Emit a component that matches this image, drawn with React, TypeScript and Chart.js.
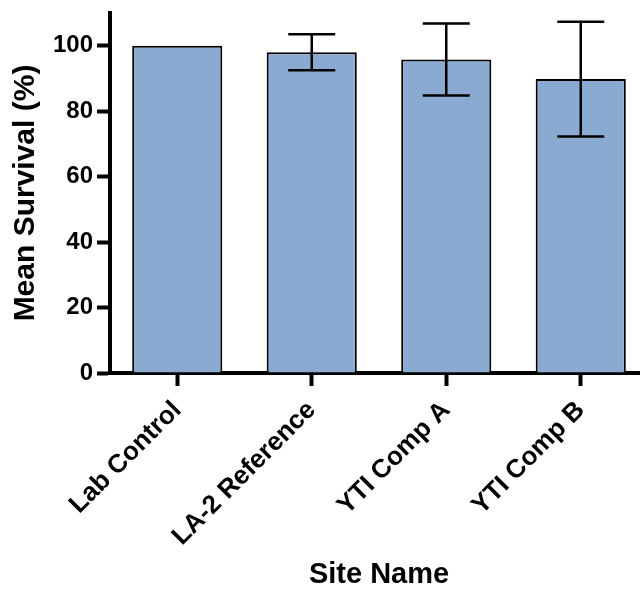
import React, { useEffect, useRef } from "react";
import { Chart, registerables } from "chart.js";

Chart.register(...registerables);

const categories = ["Lab Control", "LA-2 Reference", "YTI Comp A", "YTI Comp B"];
const meanSurvival = [100, 98, 95.8, 89.8];
const errorSD = [0, 5.5, 11, 17.5];
const yTickValues = [0, 20, 40, 60, 80, 100];
const yMax = 110;

const FONT = "'Liberation Sans', Arial, Helvetica, sans-serif";

const errorBarPlugin = {
  id: "errorBars",
  afterDatasetsDraw(chart: any) {
    const xs = chart.scales.x;
    const ys = chart.scales.y;
    const ctx = chart.ctx;
    ctx.save();
    ctx.strokeStyle = "#000";
    ctx.lineWidth = 2.5;
    const capHalf = 23.5;
    meanSurvival.forEach((m, i) => {
      const sd = errorSD[i];
      if (!sd) return;
      const x = xs.getPixelForValue(i);
      const yHi = ys.getPixelForValue(m + sd);
      const yLo = ys.getPixelForValue(m - sd);
      ctx.beginPath();
      ctx.moveTo(x, yHi);
      ctx.lineTo(x, yLo);
      ctx.moveTo(x - capHalf, yHi);
      ctx.lineTo(x + capHalf, yHi);
      ctx.moveTo(x - capHalf, yLo);
      ctx.lineTo(x + capHalf, yLo);
      ctx.stroke();
    });
    ctx.restore();
  },
};

export default function App() {
  const ref = useRef<HTMLCanvasElement>(null);
  useEffect(() => {
    if (!ref.current) return;
    const chart = new Chart(ref.current, {
      type: "bar",
      data: {
        labels: categories,
        datasets: [
          {
            data: meanSurvival,
            backgroundColor: "#8AAAD2",
            borderColor: "#000",
            borderWidth: 2,
            categoryPercentage: 1,
            barPercentage: 0.67,
          },
        ],
      },
      options: {
        animation: false,
        responsive: false,
        layout: { padding: { top: 13, left: 0, right: 0, bottom: 0 } },
        plugins: { legend: { display: false }, tooltip: { enabled: false } },
        scales: {
          x: {
            afterFit(scale: any) {
              scale.height = 219;
              scale.paddingLeft = 0;
              scale.paddingRight = 0;
            },
            grid: {
              offset: false,
              drawOnChartArea: false,
              drawTicks: true,
              tickLength: 13,
              tickWidth: 4,
              tickColor: "#000",
            },
            border: { display: true, width: 4, color: "#000" },
            ticks: {
              minRotation: 45,
              maxRotation: 45,
              padding: 9,
              color: "#000",
              font: { family: FONT, size: 26, weight: "bold" },
            },
            title: {
              display: true,
              text: "Site Name",
              color: "#000",
              padding: { top: 0, bottom: 0 },
              font: { family: FONT, size: 29, weight: "bold" },
            },
          },
          y: {
            min: 0,
            max: yMax,
            afterFit(scale: any) {
              scale.width = 110;
              scale.paddingTop = 0;
              scale.paddingBottom = 0;
            },
            afterBuildTicks(scale: any) {
              scale.ticks = yTickValues.map((v) => ({ value: v }));
            },
            grid: {
              drawOnChartArea: false,
              drawTicks: true,
              tickLength: 13,
              tickWidth: 4,
              tickColor: "#000",
            },
            border: { display: true, width: 4, color: "#000" },
            ticks: {
              padding: 4,
              color: "#000",
              font: { family: FONT, size: 24, weight: "bold" },
            },
            title: {
              display: true,
              text: "Mean Survival (%)",
              color: "#000",
              padding: { top: 8, bottom: 0 },
              font: { family: FONT, size: 30, weight: "bold" },
            },
          },
        },
      },
      plugins: [errorBarPlugin],
    } as any);
    return () => chart.destroy();
  }, []);
  return (
    <div
      style={{
        position: "fixed",
        left: 0,
        top: 0,
        width: 640,
        height: 590,
        overflow: "hidden",
        background: "#fff",
      }}
    >
      <canvas ref={ref} width={648} height={592} style={{ width: 648, height: 592, display: "block" }} />
    </div>
  );
}
